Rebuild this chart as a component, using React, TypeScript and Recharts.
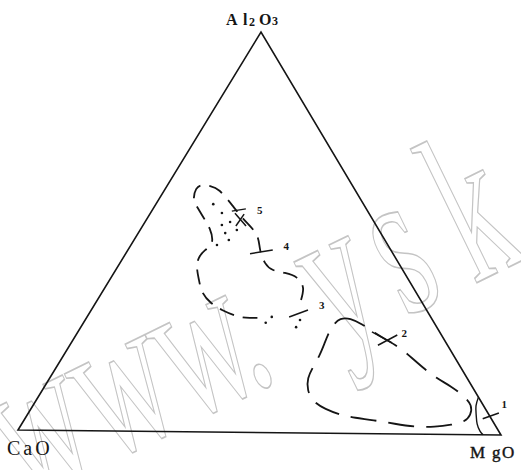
import React from 'react';
import { ComposedChart, Line, Scatter, XAxis, YAxis } from 'recharts';

// compositions are [CaO, Al2O3, MgO] in wt %
type Comp = [number, number, number];

const VERTICES: Comp[] = [[100, 0, 0], [0, 100, 0], [0, 0, 100]];

// field around samples 3-5 (open: the stretch near 3 is only dotted)
const FIELD_A: Comp[] = [
    [24.9, 33.2, 41.9], [23.0, 36.2, 40.8], [23.0, 38.7, 38.3], [24.9, 39.9, 35.2],
    [27.0, 40.6, 32.4], [27.8, 42.3, 29.9], [27.2, 45.6, 27.2], [26.1, 49.1, 24.8],
    [26.5, 52.0, 21.5], [27.1, 54.3, 18.6], [27.5, 56.7, 15.8], [28.3, 60.2, 11.5],
    [29.7, 61.4, 8.9], [31.3, 61.6, 7.1], [33.0, 60.6, 6.4], [34.7, 58.1, 7.2],
    [35.0, 55.9, 9.1], [35.0, 53.4, 11.6], [35.1, 50.7, 14.2], [36.3, 47.4, 16.3],
    [38.7, 45.4, 15.9], [41.0, 43.4, 15.6], [42.6, 40.9, 16.5], [43.7, 37.9, 18.4],
    [44.5, 34.7, 20.8], [44.0, 32.2, 23.8], [42.6, 30.5, 26.9], [40.2, 29.0, 30.8],
    [37.8, 28.6, 33.6], [35.1, 28.6, 36.3],
];

// field around samples 1-2 (closed)
const FIELD_B: Comp[] = [
    [21.4, 27.0, 51.6], [19.0, 28.8, 52.2], [16.9, 28.8, 54.3], [15.2, 27.4, 57.4],
    [13.6, 25.1, 61.3], [12.0, 23.4, 64.6], [10.2, 21.5, 68.3], [9.0, 19.0, 72.0],
    [8.0, 16.8, 75.2], [6.5, 14.1, 79.4], [4.2, 11.9, 83.9], [2.9, 9.6, 87.5],
    [2.3, 7.4, 90.3], [3.8, 4.9, 91.3], [5.9, 3.2, 90.9], [9.0, 2.4, 88.6],
    [12.8, 1.8, 85.4], [16.9, 1.8, 81.3], [20.7, 2.5, 76.8], [24.8, 3.4, 71.8],
    [28.3, 3.9, 67.8], [31.0, 4.6, 64.4], [33.4, 6.0, 60.6], [35.1, 7.8, 57.1],
    [34.8, 10.7, 54.5], [33.3, 13.7, 53.0], [30.7, 16.5, 52.8], [27.8, 19.5, 52.7],
    [25.1, 22.8, 52.1], [23.0, 25.3, 51.7],
];

// solid boundary close to the MgO corner
const MGO_FIELD: Comp[] = [
    [0, 9.4, 90.6], [1.6, 7.2, 91.2], [2.7, 4.9, 92.4], [3.6, 2.7, 93.7], [3.9, 0.9, 95.2], [3.7, 0, 96.3],
];

// stippled points inside field A
const FIELD_A_DOTS: Comp[] = [
    [31.3, 56.9, 11.8], [30.6, 54.7, 14.7], [32.1, 51.7, 16.2], [30.0, 52.5, 17.5],
    [29.6, 50.5, 19.9], [32.4, 49.7, 17.9], [32.5, 48.0, 19.5], [35.6, 46.7, 17.7],
    [33.1, 28.9, 38.0], [35.1, 27.4, 37.5], [27.6, 28.2, 44.2], [29.3, 26.4, 44.3],
];

// tick marks of the sample points, each from -> to
const SAMPLE_TICKS: Comp[][] = [
    [[28.3, 55.2, 16.5], [25.1, 55.8, 19.1]],
    [[27.9, 54.7, 17.4], [27.2, 51.5, 21.3]],
    [[29.3, 51.5, 19.2], [26.1, 54.5, 19.4]],
    [[29.8, 44.6, 25.6], [24.6, 45.6, 29.8]],
    [[29.5, 28.9, 41.6], [24.7, 30.7, 44.6]],
    [[14.1, 25.4, 60.5], [11.3, 22.7, 66.0]],
    [[14.5, 22.1, 63.4], [9.2, 24.7, 66.1]],
    [[1.8, 4.0, 94.2], [-2.3, 5.5, 96.8]],
];

const SAMPLE_NO = ['5', '4', '3', '2', '1'];
const SAMPLE_LABEL_AT: Comp[] = [
    [22.3, 55.6, 22.1], [21.3, 46.6, 32.1], [21.2, 32.0, 46.8], [7.5, 25.2, 67.3], [-4.5, 7.7, 96.8],
];

// where the three corners sit in plot units (x right, y down)
const CAO_PT = [18, 430];
const AL_PT = [261, 32];
const MGO_PT = [501, 435];

const toXY = ([c, a, m]: Comp) => ({
    x: (c * CAO_PT[0] + a * AL_PT[0] + m * MGO_PT[0]) / 100,
    y: (c * CAO_PT[1] + a * AL_PT[1] + m * MGO_PT[1]) / 100,
});

const INK = '#151515';
const W = 521;
const H = 470;
const SERIF = '"Liberation Serif", "Times New Roman", serif';

const lineProps = {
    dataKey: 'y',
    dot: false as const,
    activeDot: false as const,
    isAnimationActive: false,
    stroke: INK,
    legendType: 'none' as const,
};

const Backdrop = () => (
    <svg width={W} height={H} style={{ position: 'absolute', left: 0, top: 0 }}>
        <g transform="translate(25,503) rotate(-26) scale(0.58,1)">
            <text x="78 236 391 464 650 771 914" y={0} textAnchor="middle"
                fontFamily={SERIF} fontSize={215} fill="none" stroke="#c4c4c4" strokeWidth={1.7}>
                www.ysk
            </text>
        </g>
        <text y={25} fontFamily={SERIF} fontSize={16} fontWeight="bold" fill={INK}>
            <tspan x={226}>A</tspan><tspan x={243}>l</tspan>
            <tspan x={249} dy={1} fontSize={12}>2</tspan>
            <tspan x={259} dy={-1}>O</tspan>
            <tspan x={272} fontSize={12}>3</tspan>
        </text>
        <text x={7} y={455} fontFamily={SERIF} fontSize={20} letterSpacing={3} fill={INK}>CaO</text>
        <text y={458} fontFamily={SERIF} fontSize={17} fill={INK} stroke={INK} strokeWidth={0.4}>
            <tspan x={470}>M</tspan><tspan x={492}>g</tspan><tspan x={502}>O</tspan>
        </text>
    </svg>
);

export default function App() {
    const labels = SAMPLE_LABEL_AT.map((c, i) => ({ ...toXY(c), label: SAMPLE_NO[i] }));
    return (
        <div style={{ position: 'absolute', left: 0, top: 0, width: W, height: H, background: '#fff' }}>
            <Backdrop />
            <div style={{ position: 'absolute', left: 0, top: 0 }}>
                <ComposedChart width={W} height={H} margin={{ top: 0, right: 0, bottom: 0, left: 0 }}>
                    <XAxis type="number" dataKey="x" domain={[0, W]} hide allowDataOverflow />
                    <YAxis type="number" dataKey="y" domain={[0, H]} reversed hide allowDataOverflow />
                    <Line {...lineProps} data={VERTICES.map(toXY)} type="linearClosed" strokeWidth={1.6} />
                    <Line {...lineProps} data={FIELD_A.map(toXY)} type="natural" strokeWidth={1.8} strokeDasharray="15 9" />
                    <Line {...lineProps} data={FIELD_B.map(toXY)} type="basisClosed" strokeWidth={1.8} strokeDasharray="26 12" />
                    <Line {...lineProps} data={MGO_FIELD.map(toXY)} type="natural" strokeWidth={1.4} />
                    {SAMPLE_TICKS.map((seg, i) => (
                        <Line key={i} {...lineProps} data={seg.map(toXY)} type="linear" strokeWidth={1.5} />
                    ))}
                    <Scatter data={FIELD_A_DOTS.map(toXY)} isAnimationActive={false}
                        shape={(p: any) => <circle cx={p.cx} cy={p.cy} r={1.3} fill={INK} />} />
                    <Scatter data={labels} isAnimationActive={false}
                        shape={(p: any) => (
                            <text x={p.cx} y={p.cy} dy={4} textAnchor="middle" fontFamily={SERIF}
                                fontSize={11} fontWeight="bold" fill={INK}>{p.payload.label}</text>
                        )} />
                </ComposedChart>
            </div>
        </div>
    );
}
